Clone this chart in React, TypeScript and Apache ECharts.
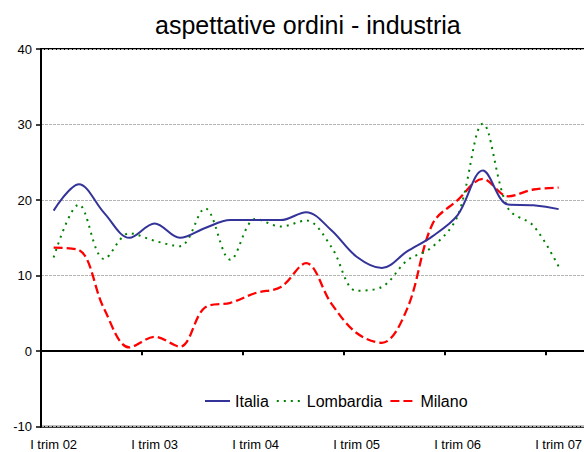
import React, { useEffect, useRef } from "react";
import * as echarts from "echarts";

const quarters = [
  "I trim 02", "II trim 02", "III trim 02", "IV trim 02",
  "I trim 03", "II trim 03", "III trim 03", "IV trim 03",
  "I trim 04", "II trim 04", "III trim 04", "IV trim 04",
  "I trim 05", "II trim 05", "III trim 05", "IV trim 05",
  "I trim 06", "II trim 06", "III trim 06", "IV trim 06",
  "I trim 07",
];
const italia = [18.6, 22.1, 18.3, 15.0, 16.9, 15.0, 16.3, 17.35, 17.35, 17.35, 18.4, 16.0, 12.5, 11.0, 13.2, 15.2, 18.0, 23.9, 19.4, 19.3, 18.8];
const lombardia = [12.4, 19.4, 12.2, 15.6, 14.6, 13.9, 18.9, 12.1, 17.5, 16.5, 17.3, 13.8, 8.0, 8.5, 12.0, 13.8, 17.9, 30.1, 18.9, 16.6, 11.2];
const milano = [13.7, 13.4, 5.6, 0.5, 1.9, 0.6, 5.8, 6.4, 7.7, 8.5, 11.65, 6.3, 2.4, 1.1, 5.6, 16.8, 20.0, 22.8, 20.5, 21.4, 21.65];
const labelQuarters = [0, 4, 8, 12, 16, 20];
const tickBounds = [3.5, 7.5, 11.5, 15.5, 19.5];
const yTicks = { min: -10, max: 40, step: 10 };

const FONT = "'Liberation Sans', Arial, sans-serif";

export default function App() {
  const ref = useRef<HTMLDivElement>(null);
  useEffect(() => {
    if (!ref.current) return;
    const chart = echarts.init(ref.current, undefined, { renderer: "svg" });
    const pts = (arr: number[]) => arr.map((v, i) => [i, v]);
    chart.setOption({
      animation: false,
      backgroundColor: "#ffffff",
      textStyle: { fontFamily: FONT },
      title: {
        text: "aspettative ordini - industria",
        left: 150,
        top: 7,
        textStyle: { fontFamily: FONT, fontSize: 25, fontWeight: "normal", color: "#000" },
      },
      legend: {
        left: 199,
        top: 388,
        itemWidth: 25,
        itemHeight: 14,
        itemGap: 7,
        itemStyle: { color: "rgba(0,0,0,0)", borderWidth: 0, opacity: 0 },
        textStyle: { fontFamily: FONT, fontSize: 16, color: "#000" },
        data: ["Italia", "Lombardia", "Milano"],
      },
      grid: {
        left: 41,
        top: 49,
        right: -30,
        height: 377.7,
        show: true,
        borderColor: "#000",
        borderWidth: 2,
        containLabel: false,
        outerBoundsMode: "none",
      },
      xAxis: {
        type: "value",
        min: -0.5,
        max: -0.5 + 573 / 25.25,
        axisLine: { onZero: true, lineStyle: { color: "#000", width: 2 } },
        axisTick: { show: true, length: 4, customValues: tickBounds, lineStyle: { color: "#000", width: 2 } },
        axisLabel: {
          customValues: labelQuarters,
          margin: 11,
          fontSize: 13,
          color: "#000",
          fontFamily: FONT,
          formatter: (v: number) => quarters[Math.round(v)] ?? "",
        },
        splitLine: { show: false },
      },
      yAxis: {
        type: "value",
        min: yTicks.min,
        max: yTicks.max,
        interval: yTicks.step,
        axisLine: { show: true, onZero: false, lineStyle: { color: "#000", width: 2 } },
        axisTick: { show: true, length: 5, lineStyle: { color: "#000", width: 1.5 } },
        axisLabel: { fontSize: 13, color: "#000", margin: 9, fontFamily: FONT },
        splitLine: { show: true, lineStyle: { color: "#b4b4b4", width: 1, type: [3, 1] } },
      },
      series: [
        {
          name: "Italia",
          type: "line",
          data: pts(italia),
          smooth: 0.35,
          symbol: "none",
          lineStyle: { color: "#333399", width: 2 },
          itemStyle: { color: "#333399" },
          z: 4,
        },
        {
          name: "Lombardia",
          type: "line",
          data: pts(lombardia),
          smooth: 0.35,
          symbol: "none",
          lineStyle: { color: "#008000", width: 2, type: [2, 5] },
          itemStyle: { color: "#008000" },
          z: 3,
        },
        {
          name: "Milano",
          type: "line",
          data: pts(milano),
          smooth: 0.35,
          symbol: "none",
          lineStyle: { color: "#ff0000", width: 2.3, type: [9, 4] },
          itemStyle: { color: "#ff0000" },
          z: 2,
        },
      ],
    });
    return () => chart.dispose();
  }, []);
  return (
    <div
      ref={ref}
      style={{ position: "absolute", left: 0, top: 0, width: 584, height: 452 }}
    />
  );
}
